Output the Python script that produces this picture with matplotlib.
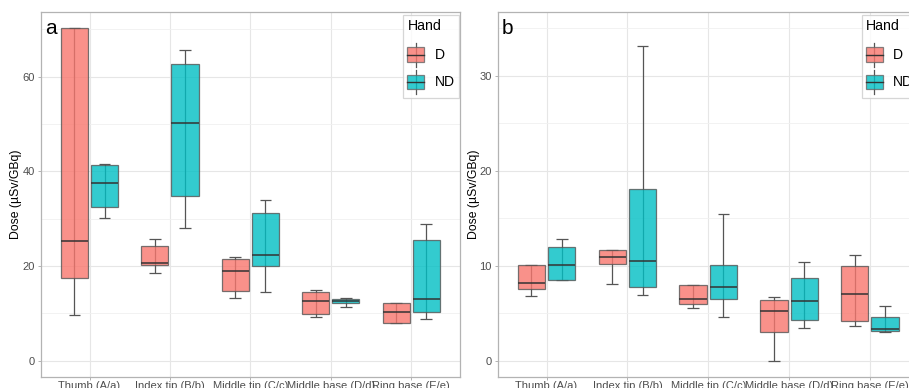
import numpy as np
import matplotlib
matplotlib.use("Agg")
import matplotlib.pyplot as plt
from matplotlib.patches import Rectangle, Patch
from matplotlib.lines import Line2D
from matplotlib.legend_handler import HandlerBase

plt.rcParams['font.family'] = ['Liberation Sans', 'DejaVu Sans']

sites = ["Thumb (A/a)", "Index tip (B/b)", "Middle tip (C/c)",
         "Middle base (D/d)", "Ring base (E/e)"]
hands = ["D", "ND"]
hand_colors = {"D": "#F8766D", "ND": "#00BFC4"}

# panel a: [lower whisker, q1, median, q3, upper whisker] per site
a_D = [[9.6, 17.4, 25.3, 70.3, 70.3],
       [18.6, 20.2, 20.6, 24.3, 25.6],
       [13.2, 14.8, 18.9, 21.4, 21.9],
       [9.2, 9.8, 12.6, 14.6, 14.9],
       [7.9, 8.0, 10.3, 12.1, 12.2]]
a_ND = [[30.1, 32.4, 37.5, 41.3, 41.5],
        [28.0, 34.8, 50.3, 62.7, 65.7],
        [14.5, 19.9, 22.3, 31.2, 33.9],
        [11.3, 12.2, 12.7, 13.0, 13.2],
        [8.8, 10.3, 13.1, 25.4, 28.8]]

# panel b
b_D = [[6.85, 7.55, 8.2, 10.1, 10.1],
       [8.1, 10.2, 10.9, 11.6, 11.6],
       [5.5, 5.97, 6.46, 8.0, 8.0],
       [0.0, 3.06, 5.2, 6.43, 6.67],
       [3.62, 4.18, 7.03, 10.0, 11.1]]
b_ND = [[8.45, 8.46, 10.1, 12.0, 12.8],
        [6.96, 7.73, 10.5, 18.1, 33.1],
        [4.6, 6.53, 7.8, 10.1, 15.4],
        [3.44, 4.29, 6.32, 8.67, 10.4],
        [2.98, 3.16, 3.37, 4.57, 5.76]]

a_yticks = [0, 20, 40, 60]
b_yticks = [0, 10, 20, 30]

W, H = 909, 388
DODGE = 0.1875
BOXW = 0.3375
CAPW = 0.145


class BoxKey(HandlerBase):
    def create_artists(self, legend, orig_handle, xdescent, ydescent,
                       width, height, fontsize, trans):
        fc = orig_handle.get_facecolor()
        x0, y0 = -xdescent, -ydescent
        cx = x0 + width / 2
        bh = height * 0.6
        by = y0 + (height - bh) / 2
        wl = Line2D([cx, cx], [y0, y0 + height], color="#555555", lw=0.9,
                    transform=trans)
        r = Rectangle((x0, by), width, bh, facecolor=fc, alpha=0.8,
                      edgecolor="#666666", lw=0.9, transform=trans)
        med = Line2D([x0, x0 + width], [by + bh / 2] * 2, color="#333333",
                     lw=1.0, transform=trans)
        return [wl, r, med]


def draw_panel(ax, dataD, dataND, yticks, minor, ylim, label):
    x = np.arange(1, len(sites) + 1)
    for hand, data, off in [("D", dataD, -DODGE), ("ND", dataND, DODGE)]:
        pos = x + off
        stats = []
        for s in data:
            stats.append(dict(whislo=s[0], q1=s[1], med=s[2], q3=s[3],
                              whishi=s[4], fliers=[]))
        lo = [s[0] for s in data]
        hi = [s[4] for s in data]
        # whisker line through the whole box
        ax.vlines(pos, lo, hi, color="#555555", lw=0.9, zorder=2)
        ax.hlines(lo, pos - CAPW / 2, pos + CAPW / 2, color="#555555",
                  lw=0.9, zorder=2)
        ax.hlines(hi, pos - CAPW / 2, pos + CAPW / 2, color="#555555",
                  lw=0.9, zorder=2)
        ax.bxp(stats, positions=pos, widths=BOXW, patch_artist=True,
               showcaps=False, showfliers=False, manage_ticks=False,
               boxprops=dict(facecolor=hand_colors[hand], alpha=0.8,
                             edgecolor="#555555", lw=0.9),
               whiskerprops=dict(lw=0),
               medianprops=dict(color="#333333", lw=1.1), zorder=3)

    ax.set_xlim(0.4, len(sites) + 0.6)
    ax.set_ylim(*ylim)
    ax.set_xticks(x)
    ax.set_xticklabels(sites)
    ax.set_yticks(yticks)
    ax.set_yticks(minor, minor=True)
    ax.grid(True, which="major", color="#e6e6e6", lw=0.8, zorder=0)
    ax.grid(True, which="minor", axis="y", color="#f0f0f0", lw=0.6, zorder=0)
    ax.set_axisbelow(True)
    ax.tick_params(axis="both", which="major", length=2.5, width=0.7,
                   color="#b3b3b3", labelcolor="#4d4d4d", labelsize=8,
                   pad=2.0)
    ax.tick_params(axis="x", which="major", pad=0.5)
    ax.tick_params(which="minor", length=0)
    for sp in ax.spines.values():
        sp.set_color("#b3b3b3")
        sp.set_linewidth(0.9)
    ax.set_ylabel("Dose (µSv/GBq)", fontsize=8.8, color="black")
    ax.text(0.009, 0.94, label, transform=ax.transAxes, fontsize=15,
            ha="left", va="baseline")

    handles = [Patch(facecolor=hand_colors[h]) for h in hands]
    leg = ax.legend(handles, hands, title="Hand", loc="upper left",
                    bbox_to_anchor=(0.8656, 0.9926),
                    handler_map={Patch: BoxKey()}, fontsize=10,
                    title_fontsize=10.2, frameon=True, fancybox=False,
                    handlelength=1.2, handleheight=2.28, labelspacing=0.24,
                    handletextpad=0.75, borderpad=0.3, alignment="left",
                    borderaxespad=0)
    leg._legend_box.sep = 6.8
    leg.get_frame().set_edgecolor("#cccccc")
    leg.get_frame().set_linewidth(0.9)
    return ax


def main():
    fig = plt.figure(figsize=(W / 100, H / 100), dpi=100)
    bottom = 1 - 376.7 / H
    height = (376.7 - 12.3) / H
    ax_a = fig.add_axes([41.3 / W, bottom, (459.5 - 41.3) / W, height])
    ax_b = fig.add_axes([498.0 / W, bottom, (918.5 - 498.0) / W, height])

    draw_panel(ax_a, a_D, a_ND, a_yticks, [10, 30, 50, 70], (-3.4, 73.6), "a")
    draw_panel(ax_b, b_D, b_ND, b_yticks, [5, 15, 25, 35], (-1.7, 36.7), "b")
    ax_a.yaxis.set_label_coords(-0.047, 0.5)
    ax_b.yaxis.set_label_coords(-0.043, 0.5)

    fig.savefig("out.png", dpi=100)


if __name__ == "__main__":
    main()
